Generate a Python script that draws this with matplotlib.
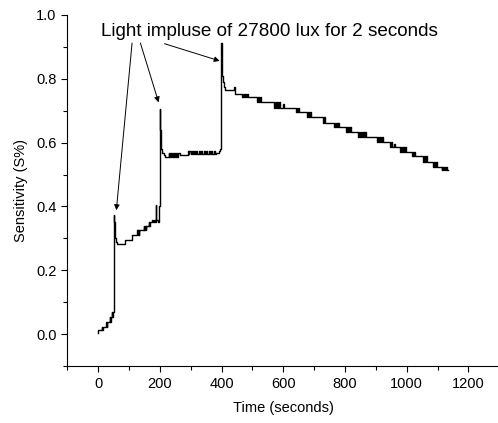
import matplotlib
matplotlib.use("Agg")
import matplotlib.pyplot as plt

plt.rcParams['font.family'] = ['Liberation Sans', 'DejaVu Sans']

# ---- data (time in seconds, sensitivity S%) ----
t_start = [0, 0.5, 11, 13, 15, 26, 28, 30, 37, 39, 41, 44, 46, 48, 51]
s_start = [0.002, 0.012, 0.022, 0.012, 0.023, 0.038, 0.023, 0.038, 0.054, 0.038,
           0.054, 0.070, 0.054, 0.070, 0.080]

t_pulse1 = [52, 53, 54, 56, 59, 62, 88, 110, 126, 128, 130, 132, 134, 148, 150,
            152, 154, 156, 164, 166, 168, 176, 178, 180, 184, 186, 188, 189, 194,
            196, 198]
s_pulse1 = [0.372, 0.35, 0.32, 0.30, 0.29, 0.283, 0.296, 0.311, 0.325, 0.311,
            0.325, 0.311, 0.325, 0.338, 0.325, 0.338, 0.325, 0.338, 0.351, 0.338,
            0.351, 0.358, 0.351, 0.358, 0.351, 0.358, 0.403, 0.358, 0.350, 0.365,
            0.40]

t_pulse2 = [199, 200, 201, 203, 205, 208, 212, 218, 229, 231, 233, 236, 239, 242,
            245, 248, 252, 256, 260, 264, 290, 293, 296, 300, 303, 307, 310, 314,
            318, 322, 326, 330, 334, 338, 342, 346, 350, 354, 358, 362, 366, 370,
            374, 378, 382, 393, 396]
s_pulse2 = [0.705, 0.68, 0.64, 0.60, 0.58, 0.568, 0.56, 0.555, 0.568, 0.555,
            0.568, 0.555, 0.568, 0.555, 0.568, 0.555, 0.568, 0.555, 0.568, 0.562,
            0.575, 0.565, 0.575, 0.565, 0.575, 0.565, 0.575, 0.565, 0.575, 0.565,
            0.575, 0.565, 0.575, 0.565, 0.575, 0.565, 0.575, 0.565, 0.575, 0.565,
            0.575, 0.565, 0.575, 0.565, 0.567, 0.575, 0.58]

t_pulse3 = [399, 400, 401, 402, 404, 407, 412, 440, 442, 445,
            467, 470, 473, 476, 479, 482, 485,
            516, 519, 522, 525, 528,
            570, 573, 576, 579, 582, 585, 588, 598, 601,
            640, 643, 646, 649, 652,
            677, 680, 683, 686, 689,
            729, 732, 735,
            764, 767, 770, 773, 776, 779, 782,
            802, 805, 808, 811, 814, 817, 820,
            843, 846, 849, 852, 855, 858, 861, 864, 867,
            904, 907, 910, 913, 916, 919, 922,
            947, 950, 953, 960, 963,
            979, 982, 985, 988, 991, 994, 997,
            1016, 1019, 1022, 1025, 1028,
            1053, 1056, 1059, 1062, 1065,
            1086, 1089, 1092, 1095, 1098,
            1113, 1116, 1119, 1122, 1125, 1128, 1131, 1135]
s_pulse3 = [0.913, 0.88, 0.84, 0.81, 0.79, 0.775, 0.765, 0.775, 0.765, 0.752,
            0.742, 0.752, 0.742, 0.752, 0.742, 0.752, 0.742,
            0.726, 0.742, 0.726, 0.742, 0.726,
            0.710, 0.726, 0.710, 0.726, 0.710, 0.726, 0.710, 0.720, 0.710,
            0.695, 0.710, 0.695, 0.710, 0.695,
            0.679, 0.695, 0.679, 0.695, 0.679,
            0.663, 0.679, 0.663,
            0.648, 0.663, 0.648, 0.663, 0.648, 0.663, 0.648,
            0.632, 0.648, 0.632, 0.648, 0.632, 0.648, 0.632,
            0.617, 0.632, 0.617, 0.632, 0.617, 0.632, 0.617, 0.632, 0.617,
            0.601, 0.617, 0.601, 0.617, 0.601, 0.617, 0.601,
            0.585, 0.601, 0.585, 0.595, 0.585,
            0.570, 0.585, 0.570, 0.585, 0.570, 0.585, 0.570,
            0.557, 0.570, 0.557, 0.570, 0.557,
            0.540, 0.557, 0.540, 0.557, 0.540,
            0.525, 0.540, 0.525, 0.540, 0.525,
            0.513, 0.525, 0.513, 0.525, 0.513, 0.525, 0.513, 0.513]

time = t_start + t_pulse1 + t_pulse2 + t_pulse3
sensitivity = s_start + s_pulse1 + s_pulse2 + s_pulse3

annotation_text = "Light impluse of 27800 lux for 2 seconds"
arrow_targets = [(59, 0.388), (196, 0.726), (394, 0.856)]
arrow_tails = [(110, 0.912), (137, 0.912), (215, 0.910)]

x_ticks = [0, 200, 400, 600, 800, 1000, 1200]
y_ticks = [0.0, 0.2, 0.4, 0.6, 0.8, 1.0]

# ---- figure ----
fig = plt.figure(figsize=(4.98, 4.23), dpi=100)
ax = fig.add_axes([0.1351, 0.1348, 0.8674, 0.8298])

ax.plot(time, sensitivity, drawstyle='steps-post', color='black', lw=1.0)

ax.set_xlim(-100, 1300)
ax.set_ylim(-0.1, 1.0)
ax.set_xticks(x_ticks)
ax.set_yticks(y_ticks)
ax.set_yticklabels([f"{v:.1f}" for v in y_ticks])
ax.set_xticks(range(-100, 1300, 200), minor=True)
ax.set_yticks([-0.1, 0.1, 0.3, 0.5, 0.7, 0.9], minor=True)
ax.tick_params(which='major', direction='out', length=4.3, width=0.8, labelsize=10.5, pad=3.5)
ax.tick_params(which='minor', direction='out', length=2.8, width=0.8)

for side in ('top', 'right'):
    ax.spines[side].set_visible(False)
for side in ('left', 'bottom'):
    ax.spines[side].set_linewidth(0.8)

ax.set_xlabel("Time (seconds)", fontsize=10.5, labelpad=7)
ax.set_ylabel("Sensitivity (S%)", fontsize=10.5, labelpad=6)

ax.text(554, 0.934, annotation_text, ha='center', va='baseline', fontsize=13.6)
for (tx, ty), (hx, hy) in zip(arrow_tails, arrow_targets):
    ax.annotate("", xy=(hx, hy), xytext=(tx, ty),
                arrowprops=dict(arrowstyle='-|>', color='black', lw=0.7,
                                mutation_scale=8, shrinkA=0, shrinkB=0))

fig.savefig("out.png", dpi=100)
